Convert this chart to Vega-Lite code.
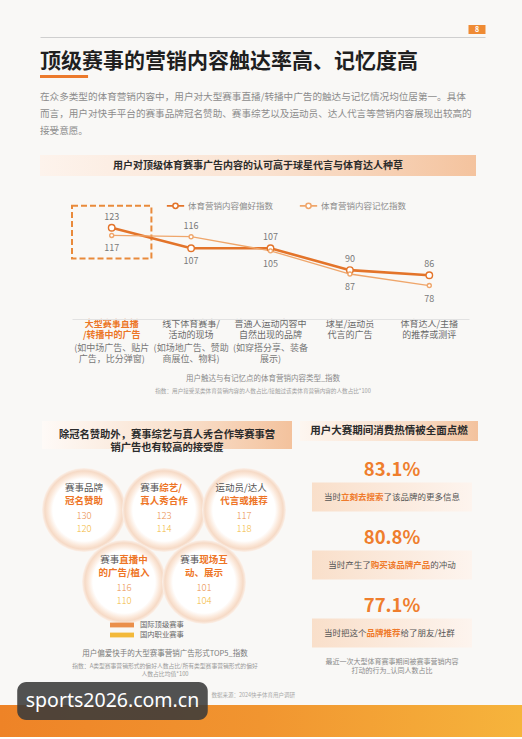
{
  "$schema": "https://vega.github.io/schema/vega-lite/v6.json",
  "background": "#f9f8f6",
  "padding": {"left": 0, "top": 24, "right": 0, "bottom": 0},
  "config": {"font": "Noto Sans CJK SC", "view": {"stroke": null}},
  "datasets": {
    "lines": [
      {"cat": "大型赛事直播/转播中的广告", "series": "体育营销内容偏好指数", "value": 123},
      {"cat": "线下体育赛事/活动的现场", "series": "体育营销内容偏好指数", "value": 107},
      {"cat": "普通人运动内容中自然出现的品牌", "series": "体育营销内容偏好指数", "value": 107},
      {"cat": "球星/运动员代言的广告", "series": "体育营销内容偏好指数", "value": 90},
      {"cat": "体育达人/主播的推荐或测评", "series": "体育营销内容偏好指数", "value": 86},
      {"cat": "大型赛事直播/转播中的广告", "series": "体育营销内容记忆指数", "value": 117},
      {"cat": "线下体育赛事/活动的现场", "series": "体育营销内容记忆指数", "value": 116},
      {"cat": "普通人运动内容中自然出现的品牌", "series": "体育营销内容记忆指数", "value": 105},
      {"cat": "球星/运动员代言的广告", "series": "体育营销内容记忆指数", "value": 87},
      {"cat": "体育达人/主播的推荐或测评", "series": "体育营销内容记忆指数", "value": 78}
    ],
    "cats": [
      {"cat": "大型赛事直播/转播中的广告", "name": "大型赛事直播\n/转播中的广告", "detail": "(如中场广告、贴片\n广告，比分弹窗)"},
      {"cat": "线下体育赛事/活动的现场", "name": "线下体育赛事/\n活动的现场", "detail": "(如场地广告、赞助\n商展位、物料)"},
      {"cat": "普通人运动内容中自然出现的品牌", "name": "普通人运动内容中\n自然出现的品牌", "detail": "(如穿搭分享、装备\n展示)"},
      {"cat": "球星/运动员代言的广告", "name": "球星/运动员\n代言的广告", "detail": ""},
      {"cat": "体育达人/主播的推荐或测评", "name": "体育达人/主播\n的推荐或测评", "detail": ""}
    ],
    "bubbles": [
      {"name": "赛事品牌冠名赞助", "row": "第一排", "pre": "赛事品牌", "hl": "", "l2": "冠名赞助", "国际顶级赛事": 130, "国内职业赛事": 120},
      {"name": "赛事综艺/真人秀合作", "row": "第一排", "pre": "赛事", "hl": "综艺/", "l2": "真人秀合作", "国际顶级赛事": 123, "国内职业赛事": 114},
      {"name": "运动员/达人代言或推荐", "row": "第一排", "pre": "运动员/达人", "hl": "", "l2": "代言或推荐", "国际顶级赛事": 117, "国内职业赛事": 118},
      {"name": "赛事直播中的广告/植入", "row": "第二排", "pre": "赛事", "hl": "直播中", "l2": "的广告/植入", "国际顶级赛事": 116, "国内职业赛事": 110},
      {"name": "赛事现场互动、展示", "row": "第二排", "pre": "赛事", "hl": "现场互", "l2": "动、展示", "国际顶级赛事": 101, "国内职业赛事": 104}
    ],
    "actions": [
      {"rank": 1, "value": 0.831, "pre": "当时", "hl": "立刻去搜索", "post": "了该品牌的更多信息"},
      {"rank": 2, "value": 0.808, "pre": "当时产生了", "hl": "购买该品牌产品", "post": "的冲动"},
      {"rank": 3, "value": 0.771, "pre": "当时把这个", "hl": "品牌推荐", "post": "给了朋友/社群"}
    ]
  },
  "spacing": 26,
  "resolve": {"scale": {"color": "independent"}},
  "vconcat": [
    {
      "spacing": 19,
      "resolve": {"scale": {"color": "independent"}},
      "vconcat": [
        {
          "width": 485,
          "height": 1,
          "data": {"values": [{"page": "8"}]},
          "title": {
            "text": "顶级赛事的营销内容触达率高、记忆度高",
            "orient": "bottom", "anchor": "start", "frame": "group", "offset": -27, "dx": 40,
            "fontSize": 21, "fontWeight": "bold", "color": "#1f1f1f",
            "subtitle": [
              "在众多类型的体育营销内容中，用户对大型赛事直播/转播中广告的触达与记忆情况均位居第一。具体",
              "而言，用户对快手平台的赛事品牌冠名赞助、赛事综艺以及运动员、达人代言等营销内容展现出较高的",
              "接受意愿。"
            ],
            "subtitleFontSize": 9.6, "subtitleColor": "#8c8c8c", "subtitleLineHeight": 16.8, "subtitlePadding": 20
          },
          "layer": [
            {
              "mark": {"type": "rule", "color": "#ec7a2c", "strokeWidth": 3, "yOffset": 39},
              "encoding": {
                "x": {"datum": 0, "type": "quantitative", "scale": {"domain": [0, 1], "range": [40, 485]}, "axis": {"orient": "top", "title": null, "labels": false, "ticks": false, "grid": false, "domainColor": "#cfcfcf", "domainWidth": 1}},
                "x2": {"datum": 0.108},
                "y": {"datum": 0.5, "type": "quantitative", "scale": {"domain": [0, 1]}, "axis": null}
              }
            },
            {
              "mark": {"type": "point", "shape": "M-1,-0.53H1V0.53H-1Z", "filled": true, "color": "#ef8b34", "opacity": 1, "size": 289, "yOffset": -8},
              "encoding": {"x": {"datum": 0.982, "type": "quantitative"}, "y": {"datum": 0.5, "type": "quantitative"}}
            },
            {
              "mark": {"type": "text", "color": "#ffffff", "fontSize": 7, "fontWeight": "bold", "yOffset": -8},
              "encoding": {"x": {"datum": 0.982, "type": "quantitative"}, "y": {"datum": 0.5, "type": "quantitative"}, "text": {"field": "page"}}
            }
          ]
        },
        {
          "spacing": 17,
          "resolve": {"scale": {"color": "independent"}},
          "vconcat": [
            {
              "width": 476,
              "height": 21,
              "data": {"values": [{"t": "用户对顶级体育赛事广告内容的认可高于球星代言与体育达人种草"}]},
              "layer": [
                {
                  "mark": {"type": "rect", "fill": {"gradient": "linear", "x1": 0, "y1": 0, "x2": 1, "y2": 0, "stops": [{"offset": 0, "color": "#fdf3ec"}, {"offset": 0.5, "color": "#fae3d2"}, {"offset": 1, "color": "#f4c39e"}]}},
                  "encoding": {
                    "x": {"datum": 0, "type": "quantitative", "scale": {"domain": [0, 1], "range": [40, 476]}, "axis": null},
                    "x2": {"datum": 1},
                    "y": {"datum": 0, "type": "quantitative", "scale": {"domain": [0, 1]}, "axis": null},
                    "y2": {"datum": 1}
                  }
                },
                {
                  "mark": {"type": "text", "fontSize": 10, "fontWeight": "bold", "color": "#2b2b2b"},
                  "encoding": {"x": {"datum": 0.5, "type": "quantitative"}, "y": {"datum": 0.5, "type": "quantitative"}, "text": {"field": "t"}}
                }
              ]
            },
            {
              "width": 470,
              "height": 126,
              "title": {
                "text": "用户触达与有记忆点的体育营销内容类型_指数",
                "orient": "bottom", "anchor": "middle", "frame": "group", "offset": 10, "dx": 28,
                "fontSize": 7.5, "fontWeight": "normal", "color": "#8a8a8a",
                "subtitle": "指数：用户接受某类体育营销内容的人数占比/接触过该类体育营销内容的人数占比*100",
                "subtitleFontSize": 5.6, "subtitleColor": "#a0a0a0", "subtitlePadding": 7
              },
              "layer": [
                {
                  "data": {"name": "cats"},
                  "transform": [{"filter": "datum.cat === '大型赛事直播/转播中的广告'"}],
                  "mark": {"type": "rect", "filled": false, "color": "#e98a3b", "strokeWidth": 2, "strokeDash": [6, 3]},
                  "encoding": {
                    "x": {"field": "cat", "type": "nominal", "scale": {"type": "band", "paddingInner": 0, "paddingOuter": 0, "range": [72, 469], "domain": ["大型赛事直播/转播中的广告", "线下体育赛事/活动的现场", "普通人运动内容中自然出现的品牌", "球星/运动员代言的广告", "体育达人/主播的推荐或测评"]}, "axis": {"title": null, "labels": false, "ticks": false, "grid": false, "domain": true, "domainColor": "#e2e2e2"}},
                    "y": {"datum": 140, "type": "quantitative", "scale": {"domain": [52, 150], "nice": false, "zero": false}, "axis": null},
                    "y2": {"datum": 99}
                  }
                },
                {
                  "data": {"name": "lines"},
                  "mark": {"type": "line"},
                  "encoding": {
                    "x": {"field": "cat", "type": "nominal"},
                    "y": {"field": "value", "type": "quantitative"},
                    "color": {"field": "series", "type": "nominal", "scale": {"domain": ["体育营销内容偏好指数", "体育营销内容记忆指数"], "range": ["#e3742a", "#efa66b"]},
                      "legend": {"title": null, "orient": "none", "legendX": 166, "legendY": 3, "direction": "horizontal", "symbolType": "M-1,0H-0.3M0.3,0H1M0.3,0A0.3,0.3,0,1,1,-0.3,0A0.3,0.3,0,1,1,0.3,0", "symbolSize": 300, "symbolStrokeWidth": 1.6, "labelFontSize": 8.5, "labelColor": "#8a8a8a", "columnPadding": 22, "labelOffset": 3}},
                    "strokeWidth": {"condition": {"test": "datum.series === '体育营销内容偏好指数'", "value": 2.6}, "value": 1.3}
                  }
                },
                {
                  "data": {"name": "lines"},
                  "mark": {"type": "point", "filled": false, "fill": "#ffffff", "strokeWidth": 1.4, "opacity": 1},
                  "encoding": {
                    "x": {"field": "cat", "type": "nominal"},
                    "y": {"field": "value", "type": "quantitative"},
                    "color": {"field": "series", "type": "nominal"},
                    "size": {"condition": {"test": "datum.series === '体育营销内容偏好指数'", "value": 42}, "value": 16}
                  }
                },
                {
                  "data": {"name": "lines"},
                  "transform": [{"joinaggregate": [{"op": "max", "field": "value", "as": "mx"}], "groupby": ["cat"]}],
                  "mark": {"type": "text", "fontSize": 9, "color": "#7a7a7a", "dy": {"expr": "datum.value >= datum.mx ? -11 : 13"}},
                  "encoding": {
                    "x": {"field": "cat", "type": "nominal"},
                    "y": {"field": "value", "type": "quantitative"},
                    "text": {"field": "value", "type": "quantitative"}
                  }
                },
                {
                  "data": {"name": "cats"},
                  "mark": {"type": "text", "baseline": "top", "dy": 1, "fontSize": 9, "lineHeight": 11.3, "lineBreak": "\n", "fontWeight": {"expr": "datum.cat === '大型赛事直播/转播中的广告' ? 'bold' : 'normal'"}},
                  "encoding": {
                    "x": {"field": "cat", "type": "nominal"},
                    "y": {"datum": 52, "type": "quantitative"},
                    "text": {"field": "name"},
                    "color": {"condition": {"test": "datum.cat === '大型赛事直播/转播中的广告'", "value": "#ec7626"}, "value": "#6a6a6a"}
                  }
                },
                {
                  "data": {"name": "cats"},
                  "mark": {"type": "text", "baseline": "top", "dy": 25.2, "fontSize": 9, "lineHeight": 11.3, "lineBreak": "\n", "color": "#777777"},
                  "encoding": {
                    "x": {"field": "cat", "type": "nominal"},
                    "y": {"datum": 52, "type": "quantitative"},
                    "text": {"field": "detail"}
                  }
                }
              ]
            }
          ]
        }
      ]
    },
    {
      "spacing": 5,
      "resolve": {"scale": {"color": "independent"}},
      "vconcat": [
        {
          "spacing": 8,
          "resolve": {"scale": {"color": "independent"}},
          "hconcat": [
            {
              "spacing": 15,
              "resolve": {"scale": {"color": "independent"}},
              "vconcat": [
                {
                  "width": 292,
                  "height": 28,
                  "data": {"values": [{"t": "除冠名赞助外，赛事综艺与真人秀合作等赛事营\n销广告也有较高的接受度"}]},
                  "layer": [
                    {
                      "mark": {"type": "rect", "fill": {"gradient": "linear", "x1": 0, "y1": 0, "x2": 1, "y2": 0, "stops": [{"offset": 0, "color": "#fefaf7"}, {"offset": 0.55, "color": "#f9e0cc"}, {"offset": 1, "color": "#f3c29d"}]}},
                      "encoding": {
                        "x": {"datum": 0, "type": "quantitative", "scale": {"domain": [0, 1], "range": [42, 292]}, "axis": null},
                        "x2": {"datum": 1},
                        "y": {"datum": 0, "type": "quantitative", "scale": {"domain": [0, 1]}, "axis": null},
                        "y2": {"datum": 1}
                      }
                    },
                    {
                      "mark": {"type": "text", "fontSize": 10.3, "fontWeight": "bold", "color": "#2b2b2b", "lineBreak": "\n", "lineHeight": 12.6},
                      "encoding": {"x": {"datum": 0.5, "type": "quantitative"}, "y": {"datum": 0.5, "type": "quantitative"}, "text": {"field": "t"}}
                    }
                  ]
                },
                {
                  "width": 292,
                  "height": 144,
                  "data": {"name": "bubbles"},
                  "title": {
                    "text": "用户偏爱快手的大型赛事营销广告形式TOP5_指数",
                    "orient": "bottom", "anchor": "middle", "frame": "group", "offset": 11, "dx": 19,
                    "fontSize": 7.5, "fontWeight": "normal", "color": "#7a7a7a",
                    "subtitle": ["指数：A类型赛事营销形式的偏好人数占比/所有类型赛事营销形式的偏好", "人数占比均值*100"],
                    "subtitleFontSize": 5.8, "subtitleColor": "#9a9a9a", "subtitlePadding": 5, "subtitleLineHeight": 8
                  },
                  "encoding": {
                    "x": {"field": "name", "type": "nominal", "scale": {"type": "point", "padding": 0, "range": [84, 244], "domain": ["赛事品牌冠名赞助", "赛事直播中的广告/植入", "赛事综艺/真人秀合作", "赛事现场互动、展示", "运动员/达人代言或推荐"]}, "axis": null},
                    "y": {"field": "row", "type": "nominal", "scale": {"type": "point", "padding": 0.5, "domain": ["第一排", "第二排"]}, "axis": null}
                  },
                  "layer": [
                    {
                      "mark": {"type": "point", "shape": "circle", "filled": true, "opacity": 1, "size": 7056, "strokeWidth": 0,
                        "fill": {"gradient": "radial", "x1": 0.5, "y1": 0.5, "r1": 0, "x2": 0.5, "y2": 0.5, "r2": 0.5, "stops": [{"offset": 0, "color": "#ffffff"}, {"offset": 0.74, "color": "#ffffff"}, {"offset": 0.86, "color": "#fbe7d8"}, {"offset": 0.93, "color": "#f6dac6"}, {"offset": 1, "color": "#fbf1ea"}]}}
                    },
                    {
                      "mark": {"type": "text", "align": "left", "fontSize": 9.5, "color": "#555555", "dy": -22, "dx": {"expr": "-(length(datum.pre)+length(datum.hl))*4.75"}},
                      "encoding": {"text": {"field": "pre"}}
                    },
                    {
                      "mark": {"type": "text", "align": "left", "fontSize": 9.5, "fontWeight": "bold", "color": "#ee7526", "dy": -22, "dx": {"expr": "-(length(datum.pre)+length(datum.hl))*4.75+length(datum.pre)*9.5"}},
                      "encoding": {"text": {"field": "hl"}}
                    },
                    {
                      "mark": {"type": "text", "fontSize": 9.5, "fontWeight": "bold", "color": "#ee7526", "dy": -9},
                      "encoding": {"text": {"field": "l2"}}
                    },
                    {
                      "transform": [{"fold": ["国际顶级赛事", "国内职业赛事"], "as": ["type", "val"]}],
                      "mark": {"type": "text", "fontSize": 9.5, "fontWeight": 300, "dy": {"expr": "datum.type === '国际顶级赛事' ? 5.5 : 18.5"}},
                      "encoding": {
                        "text": {"field": "val", "type": "quantitative"},
                        "color": {"field": "type", "type": "nominal", "scale": {"domain": ["国际顶级赛事", "国内职业赛事"], "range": ["#ea8f4b", "#f3b93a"]},
                          "legend": {"title": null, "orient": "none", "legendX": 118, "legendY": 147, "direction": "vertical", "symbolType": "M-3,-0.6H3V0.6H-3Z", "symbolSize": 64, "symbolStrokeWidth": 0, "labelFontSize": 7.3, "labelColor": "#666666", "rowPadding": 2, "labelOffset": 14}}
                      }
                    }
                  ]
                }
              ]
            },
            {
              "spacing": 8,
              "vconcat": [
                {
                  "width": 178,
                  "height": 20,
                  "data": {"values": [{"t": "用户大赛期间消费热情被全面点燃"}]},
                  "layer": [
                    {
                      "mark": {"type": "rect", "fill": {"gradient": "linear", "x1": 0, "y1": 0, "x2": 1, "y2": 0, "stops": [{"offset": 0, "color": "#fdf6f0"}, {"offset": 0.6, "color": "#f9dfca"}, {"offset": 1, "color": "#f3c29d"}]}},
                      "encoding": {
                        "x": {"datum": 0, "type": "quantitative", "scale": {"domain": [0, 1]}, "axis": null},
                        "x2": {"datum": 1},
                        "y": {"datum": 0, "type": "quantitative", "scale": {"domain": [0, 1]}, "axis": null},
                        "y2": {"datum": 1}
                      }
                    },
                    {
                      "mark": {"type": "text", "fontSize": 10.5, "fontWeight": "bold", "color": "#2b2b2b"},
                      "encoding": {"x": {"datum": 0.5, "type": "quantitative"}, "y": {"datum": 0.5, "type": "quantitative"}, "text": {"field": "t"}}
                    }
                  ]
                },
                {
                  "width": 172,
                  "height": 204,
                  "data": {"name": "actions"},
                  "title": {
                    "text": ["最近一次大型体育赛事期间被赛事营销内容", "打动的行为_认同人数占比"],
                    "orient": "bottom", "anchor": "middle", "frame": "group", "offset": 5, "dx": 6,
                    "fontSize": 7, "fontWeight": "normal", "color": "#8a8a8a", "lineHeight": 9
                  },
                  "encoding": {
                    "y": {"field": "rank", "type": "ordinal", "scale": {"type": "band", "paddingInner": 0, "paddingOuter": 0}, "axis": null}
                  },
                  "layer": [
                    {
                      "mark": {"type": "rect", "height": 29, "yOffset": 14, "fill": {"gradient": "linear", "x1": 0, "y1": 0, "x2": 1, "y2": 0, "stops": [{"offset": 0, "color": "#f9dfca"}, {"offset": 1, "color": "#fdf4ee"}]}},
                      "encoding": {
                        "x": {"datum": 0, "type": "quantitative", "scale": {"domain": [0, 1], "range": [12, 172]}, "axis": null},
                        "x2": {"datum": 1}
                      }
                    },
                    {
                      "mark": {"type": "text", "fontSize": 18.5, "fontWeight": "bold", "color": "#ef7e2d", "dy": -13},
                      "encoding": {"x": {"datum": 0.5, "type": "quantitative"}, "text": {"field": "value", "type": "quantitative", "format": ".1%"}}
                    },
                    {
                      "mark": {"type": "text", "align": "left", "fontSize": 8.5, "color": "#555555", "dy": 14, "dx": {"expr": "-(length(datum.pre)+length(datum.hl)+length(datum.post))*4.25"}},
                      "encoding": {"x": {"datum": 0.5, "type": "quantitative"}, "text": {"field": "pre"}}
                    },
                    {
                      "mark": {"type": "text", "align": "left", "fontSize": 8.5, "fontWeight": "bold", "color": "#ef7a2b", "dy": 14, "dx": {"expr": "-(length(datum.pre)+length(datum.hl)+length(datum.post))*4.25+length(datum.pre)*8.5"}},
                      "encoding": {"x": {"datum": 0.5, "type": "quantitative"}, "text": {"field": "hl"}}
                    },
                    {
                      "mark": {"type": "text", "align": "left", "fontSize": 8.5, "color": "#555555", "dy": 14, "dx": {"expr": "-(length(datum.pre)+length(datum.hl)+length(datum.post))*4.25+(length(datum.pre)+length(datum.hl))*8.5"}},
                      "encoding": {"x": {"datum": 0.5, "type": "quantitative"}, "text": {"field": "post"}}
                    }
                  ]
                }
              ]
            }
          ]
        },
        {
          "width": 522,
          "height": 55,
          "data": {"values": [{"site": "sports2026.com.cn", "src": "数据来源：2024快手体育用户调研"}]},
          "layer": [
            {
              "mark": {"type": "rect", "fill": {"gradient": "linear", "x1": 0, "y1": 0, "x2": 1, "y2": 0, "stops": [{"offset": 0, "color": "#ee8327"}, {"offset": 0.5, "color": "#f19530"}, {"offset": 1, "color": "#f6b43c"}]}},
              "encoding": {
                "x": {"datum": 0, "type": "quantitative", "scale": {"domain": [0, 1]}, "axis": null},
                "x2": {"datum": 1},
                "y": {"datum": 0, "type": "quantitative", "scale": {"domain": [0, 1]}, "axis": null},
                "y2": {"datum": 0.58}
              }
            },
            {
              "mark": {"type": "rect", "fill": "#3a3a3a", "opacity": 0.88, "cornerRadius": 9},
              "encoding": {
                "x": {"datum": 0.033, "type": "quantitative"},
                "x2": {"datum": 0.398},
                "y": {"datum": 0.31, "type": "quantitative"},
                "y2": {"datum": 1}
              }
            },
            {
              "mark": {"type": "text", "color": "#ffffff", "fontSize": 19.5, "font": "Noto Sans"},
              "encoding": {"x": {"datum": 0.2155, "type": "quantitative"}, "y": {"datum": 0.66, "type": "quantitative"}, "text": {"field": "site"}}
            },
            {
              "mark": {"type": "text", "align": "left", "color": "#a8a8a8", "fontSize": 5.5},
              "encoding": {"x": {"datum": 0.405, "type": "quantitative"}, "y": {"datum": 0.76, "type": "quantitative"}, "text": {"field": "src"}}
            }
          ]
        }
      ]
    }
  ]
}
